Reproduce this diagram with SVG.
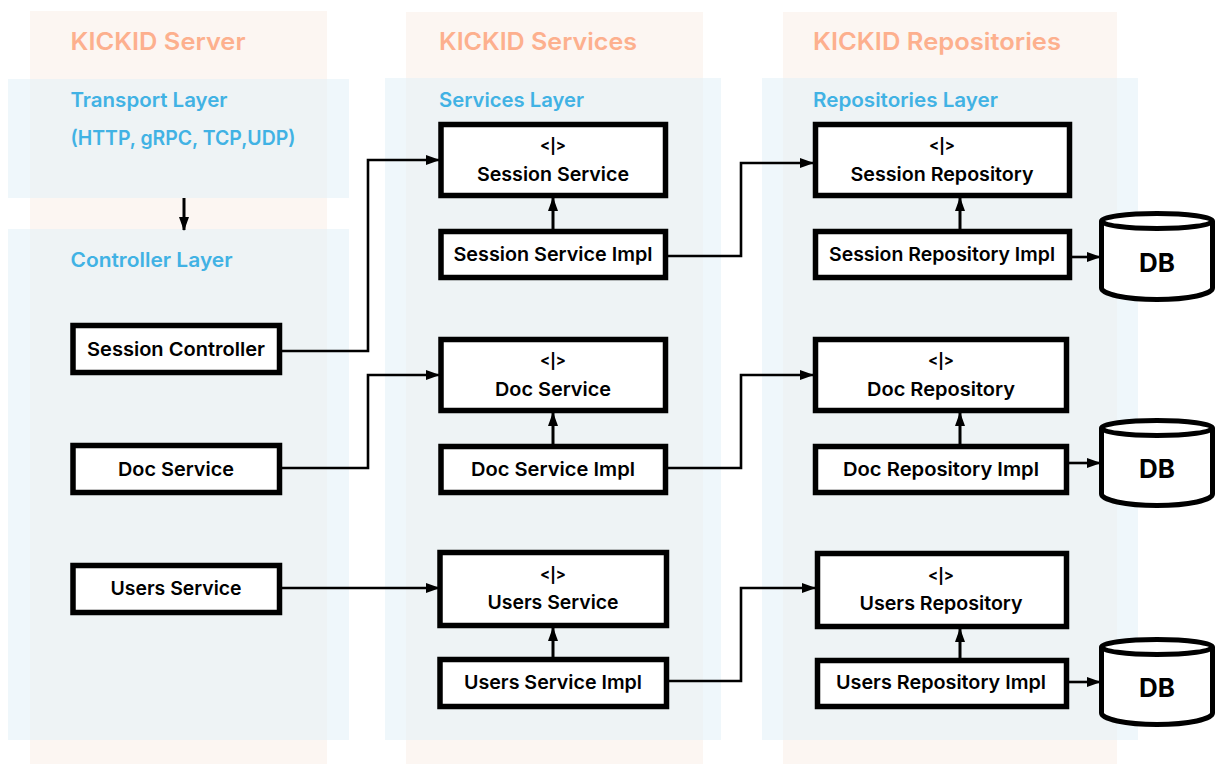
<svg xmlns="http://www.w3.org/2000/svg" width="1217" height="764" viewBox="0 0 1217 764">
<style>
text{font-family:"Inter","Liberation Sans",sans-serif;font-weight:600}
.o{fill:#fcf6f2}
.b{fill:#dfeff7;fill-opacity:.5}
.t1{font-size:24px;fill:#fdb08e}
.t2{font-size:20px;fill:#41b2e4}
.n{fill:#fff;stroke:#000;stroke-width:5.500}
.l{font-size:19px;fill:#000;text-anchor:middle}
.i{font-size:15px;fill:#000;text-anchor:middle;font-weight:700}
.c{fill:none;stroke:#000;stroke-width:2.600}
.v{fill:none;stroke:#000;stroke-width:3}
.d{font-size:26px;fill:#000;text-anchor:middle;font-weight:700}
.db{fill:#fff;stroke:#000;stroke-width:5}
</style>
<defs>
<marker id="a" viewBox="0 0 14 10" refX="13" refY="5" markerWidth="14" markerHeight="10" markerUnits="userSpaceOnUse" orient="auto"><path d="M0 0L14 5L0 10Z" fill="#000"/></marker>
</defs>
<g id="panels">
<rect class="o" x="30" y="11" width="297" height="753"/>
<rect class="o" x="406" y="12" width="297" height="752"/>
<rect class="o" x="783" y="12" width="334" height="752"/>
<rect class="b" x="8" y="79" width="341" height="119"/>
<rect class="b" x="8" y="229" width="341" height="511"/>
<rect class="b" x="385" y="78" width="336" height="662"/>
<rect class="b" x="762" y="78" width="376" height="662"/>
<text class="t1" x="70.500" y="50" textLength="175" lengthAdjust="spacingAndGlyphs">KICKID Server</text>
<text class="t1" x="439" y="50" textLength="198" lengthAdjust="spacingAndGlyphs">KICKID Services</text>
<text class="t1" x="813" y="50" textLength="248" lengthAdjust="spacingAndGlyphs">KICKID Repositories</text>
<text class="t2" x="70.500" y="107" textLength="157" lengthAdjust="spacingAndGlyphs">Transport Layer</text>
<text class="t2" x="70.500" y="145" textLength="225" lengthAdjust="spacingAndGlyphs">(HTTP, gRPC, TCP,UDP)</text>
<text class="t2" x="70.500" y="267" textLength="162" lengthAdjust="spacingAndGlyphs">Controller Layer</text>
<text class="t2" x="439" y="107" textLength="145" lengthAdjust="spacingAndGlyphs">Services Layer</text>
<text class="t2" x="813" y="107" textLength="185" lengthAdjust="spacingAndGlyphs">Repositories Layer</text>
</g>
<g id="connectors">
<path class="v" d="M184 198V230" marker-end="url(#a)"/>
<path class="c" d="M282 351H368V160H439" marker-end="url(#a)"/>
<path class="c" d="M282 468H368V375H439" marker-end="url(#a)"/>
<path class="c" d="M282 588H439" marker-end="url(#a)"/>
<path class="c" d="M668 256H741V163H813" marker-end="url(#a)"/>
<path class="c" d="M668 468H741V375H813" marker-end="url(#a)"/>
<path class="c" d="M669 681H741V588H815" marker-end="url(#a)"/>
<path class="v" d="M553 229V198" marker-end="url(#a)"/>
<path class="v" d="M553 444V413" marker-end="url(#a)"/>
<path class="v" d="M553 657V628" marker-end="url(#a)"/>
<path class="v" d="M960 229V198" marker-end="url(#a)"/>
<path class="v" d="M960 444V413" marker-end="url(#a)"/>
<path class="v" d="M960 658V629" marker-end="url(#a)"/>
<path class="c" d="M1072 257H1100" marker-end="url(#a)"/>
<path class="c" d="M1069 463H1100" marker-end="url(#a)"/>
<path class="c" d="M1069 682H1100" marker-end="url(#a)"/>
</g>
<g id="session-controller"><rect class="n" x="73" y="325.500" width="206.500" height="47"/><text class="l" x="176" y="356" textLength="178" lengthAdjust="spacingAndGlyphs">Session Controller</text></g>
<g id="doc-service"><rect class="n" x="73" y="445.500" width="206.500" height="47"/><text class="l" x="176" y="476" textLength="116" lengthAdjust="spacingAndGlyphs">Doc Service</text></g>
<g id="users-service"><rect class="n" x="73" y="565.500" width="206.500" height="47"/><text class="l" x="176" y="595" textLength="131" lengthAdjust="spacingAndGlyphs">Users Service</text></g>
<g id="session-service-i"><rect class="n" x="441" y="124.500" width="224.500" height="71"/><text class="i" x="553" y="151">&lt;|&gt;</text><text class="l" x="553" y="181" textLength="152" lengthAdjust="spacingAndGlyphs">Session Service</text></g>
<g id="session-service-impl"><rect class="n" x="441" y="231.500" width="224.500" height="46"/><text class="l" x="553" y="261" textLength="199" lengthAdjust="spacingAndGlyphs">Session Service Impl</text></g>
<g id="doc-service-i"><rect class="n" x="441" y="339.500" width="224.500" height="71"/><text class="i" x="553" y="366">&lt;|&gt;</text><text class="l" x="553" y="396" textLength="116" lengthAdjust="spacingAndGlyphs">Doc Service</text></g>
<g id="doc-service-impl"><rect class="n" x="441" y="446.500" width="224.500" height="46"/><text class="l" x="553" y="476" textLength="164" lengthAdjust="spacingAndGlyphs">Doc Service Impl</text></g>
<g id="users-service-i"><rect class="n" x="440" y="552.500" width="226.500" height="73"/><text class="i" x="553" y="580">&lt;|&gt;</text><text class="l" x="553" y="609" textLength="131" lengthAdjust="spacingAndGlyphs">Users Service</text></g>
<g id="users-service-impl"><rect class="n" x="440" y="659.500" width="226.500" height="47"/><text class="l" x="553" y="689" textLength="178" lengthAdjust="spacingAndGlyphs">Users Service Impl</text></g>
<g id="session-repository"><rect class="n" x="815.500" y="124.500" width="254" height="71"/><text class="i" x="942" y="151">&lt;|&gt;</text><text class="l" x="942" y="181" textLength="183" lengthAdjust="spacingAndGlyphs">Session Repository</text></g>
<g id="session-repository-impl"><rect class="n" x="815.500" y="231.500" width="254" height="46"/><text class="l" x="942" y="261" textLength="226" lengthAdjust="spacingAndGlyphs">Session Repository Impl</text></g>
<g id="doc-repository"><rect class="n" x="815.500" y="339.500" width="251" height="71"/><text class="i" x="941" y="366">&lt;|&gt;</text><text class="l" x="941" y="396" textLength="148" lengthAdjust="spacingAndGlyphs">Doc Repository</text></g>
<g id="doc-repository-impl"><rect class="n" x="815.500" y="446.500" width="251" height="46"/><text class="l" x="941" y="476" textLength="196" lengthAdjust="spacingAndGlyphs">Doc Repository Impl</text></g>
<g id="users-repository"><rect class="n" x="817.500" y="553.500" width="249" height="73"/><text class="i" x="941" y="581">&lt;|&gt;</text><text class="l" x="941" y="610" textLength="163" lengthAdjust="spacingAndGlyphs">Users Repository</text></g>
<g id="users-repository-impl"><rect class="n" x="817.500" y="660.500" width="249" height="46"/><text class="l" x="941" y="689" textLength="210" lengthAdjust="spacingAndGlyphs">Users Repository Impl</text></g>
<g id="db-1"><path class="db" d="M1101.500 221V288C1101.500 294 1125 299.500 1157 299.500S1212.500 294 1212.500 288V221"/><ellipse class="db" cx="1157" cy="221" rx="55.500" ry="7.500"/><text class="d" x="1157" y="272">DB</text></g>
<g id="db-2"><path class="db" d="M1101.500 428V494C1101.500 500 1125 505.500 1157 505.500S1212.500 500 1212.500 494V428"/><ellipse class="db" cx="1157" cy="428" rx="55.500" ry="7.500"/><text class="d" x="1157" y="478">DB</text></g>
<g id="db-3"><path class="db" d="M1101.500 647V713C1101.500 719 1125 724.500 1157 724.500S1212.500 719 1212.500 713V647"/><ellipse class="db" cx="1157" cy="647" rx="55.500" ry="7.500"/><text class="d" x="1157" y="697">DB</text></g>
</svg>
